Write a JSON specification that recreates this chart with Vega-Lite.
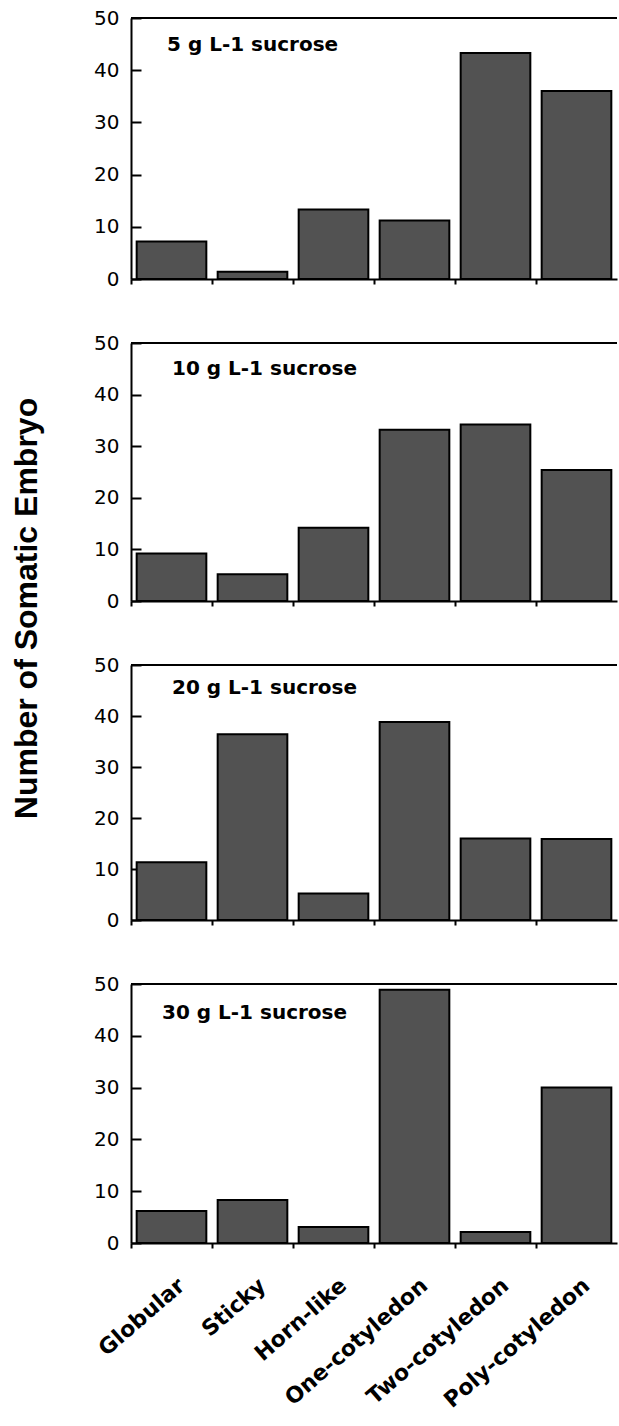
{
  "$schema": "https://vega.github.io/schema/vega-lite/v6.json",
  "background": "white",
  "padding": {"left": 10, "top": 8, "right": 2, "bottom": 5},
  "bounds": "flush",
  "spacing": 64,
  "config": {
    "view": {"stroke": null},
    "font": "Liberation Sans",
    "axis": {"domainColor": "black", "domainWidth": 2, "tickColor": "black", "tickWidth": 2, "labelColor": "black", "labelFont": "DejaVu Sans", "labelLimit": 0, "titleColor": "black", "titleFont": "Liberation Sans", "grid": false}
  },
  "data": {"values": [
    {"sucrose": "5 g L-1 sucrose", "type": "Globular", "count": 7.2},
    {"sucrose": "5 g L-1 sucrose", "type": "Sticky", "count": 1.4},
    {"sucrose": "5 g L-1 sucrose", "type": "Horn-like", "count": 13.3},
    {"sucrose": "5 g L-1 sucrose", "type": "One-cotyledon", "count": 11.2},
    {"sucrose": "5 g L-1 sucrose", "type": "Two-cotyledon", "count": 43.3},
    {"sucrose": "5 g L-1 sucrose", "type": "Poly-cotyledon", "count": 36.0},
    {"sucrose": "10 g L-1 sucrose", "type": "Globular", "count": 9.2},
    {"sucrose": "10 g L-1 sucrose", "type": "Sticky", "count": 5.2},
    {"sucrose": "10 g L-1 sucrose", "type": "Horn-like", "count": 14.2},
    {"sucrose": "10 g L-1 sucrose", "type": "One-cotyledon", "count": 33.2},
    {"sucrose": "10 g L-1 sucrose", "type": "Two-cotyledon", "count": 34.2},
    {"sucrose": "10 g L-1 sucrose", "type": "Poly-cotyledon", "count": 25.4},
    {"sucrose": "20 g L-1 sucrose", "type": "Globular", "count": 11.3},
    {"sucrose": "20 g L-1 sucrose", "type": "Sticky", "count": 36.4},
    {"sucrose": "20 g L-1 sucrose", "type": "Horn-like", "count": 5.2},
    {"sucrose": "20 g L-1 sucrose", "type": "One-cotyledon", "count": 38.8},
    {"sucrose": "20 g L-1 sucrose", "type": "Two-cotyledon", "count": 16.0},
    {"sucrose": "20 g L-1 sucrose", "type": "Poly-cotyledon", "count": 15.9},
    {"sucrose": "30 g L-1 sucrose", "type": "Globular", "count": 6.2},
    {"sucrose": "30 g L-1 sucrose", "type": "Sticky", "count": 8.3},
    {"sucrose": "30 g L-1 sucrose", "type": "Horn-like", "count": 3.1},
    {"sucrose": "30 g L-1 sucrose", "type": "One-cotyledon", "count": 48.9},
    {"sucrose": "30 g L-1 sucrose", "type": "Two-cotyledon", "count": 2.1},
    {"sucrose": "30 g L-1 sucrose", "type": "Poly-cotyledon", "count": 30.0}
  ]},
  "vconcat": [
    {
      "width": 486, "height": 261,
      "transform": [{"filter": "datum.sucrose == '5 g L-1 sucrose'"}],
      "layer": [
        {
          "mark": {"type": "bar", "fill": "#525252", "stroke": "black", "strokeWidth": 2, "width": {"band": 0.86}},
          "encoding": {
            "x": {"field": "type", "type": "nominal", "sort": ["Globular", "Sticky", "Horn-like", "One-cotyledon", "Two-cotyledon", "Poly-cotyledon"], "scale": {"paddingInner": 0, "paddingOuter": 0},
                  "axis": {"title": null, "labels": false, "bandPosition": 0, "tickSize": 5}},
            "y": {"field": "count", "type": "quantitative", "scale": {"domain": [0, 50], "nice": false},
                  "axis": {"title": null, "values": [0, 10, 20, 30, 40, 50], "tickSize": -10, "labelFontSize": 20, "labelPadding": 22}}
          }
        },
        {
          "transform": [{"aggregate": [{"op": "count", "as": "n"}], "groupby": ["sucrose"]}],
          "mark": {"type": "rule", "strokeWidth": 2, "color": "black"},
          "encoding": {"y": {"datum": 50, "type": "quantitative"}}
        },
        {
          "transform": [{"aggregate": [{"op": "count", "as": "n"}], "groupby": ["sucrose"]}],
          "mark": {"type": "text", "align": "left", "baseline": "alphabetic", "dx": -4.5, "fontSize": 20, "fontWeight": "bold", "font": "DejaVu Sans", "color": "black"},
          "encoding": {"x": {"datum": "Globular", "type": "nominal"}, "y": {"datum": 43.7, "type": "quantitative"}, "text": {"field": "sucrose"}}
        }
      ]
    },
    {
      "width": 486, "height": 258,
      "transform": [{"filter": "datum.sucrose == '10 g L-1 sucrose'"}],
      "layer": [
        {
          "mark": {"type": "bar", "fill": "#525252", "stroke": "black", "strokeWidth": 2, "width": {"band": 0.86}},
          "encoding": {
            "x": {"field": "type", "type": "nominal", "sort": ["Globular", "Sticky", "Horn-like", "One-cotyledon", "Two-cotyledon", "Poly-cotyledon"], "scale": {"paddingInner": 0, "paddingOuter": 0},
                  "axis": {"title": null, "labels": false, "bandPosition": 0, "tickSize": 5}},
            "y": {"field": "count", "type": "quantitative", "scale": {"domain": [0, 50], "nice": false},
                  "axis": {"title": "Number of Somatic Embryo", "titleFontSize": 32, "titleFontWeight": "bold", "titleY": 265, "titlePadding": 50, "values": [0, 10, 20, 30, 40, 50], "tickSize": -10, "labelFontSize": 20, "labelPadding": 22}}
          }
        },
        {
          "transform": [{"aggregate": [{"op": "count", "as": "n"}], "groupby": ["sucrose"]}],
          "mark": {"type": "rule", "strokeWidth": 2, "color": "black"},
          "encoding": {"y": {"datum": 50, "type": "quantitative"}}
        },
        {
          "transform": [{"aggregate": [{"op": "count", "as": "n"}], "groupby": ["sucrose"]}],
          "mark": {"type": "text", "align": "left", "baseline": "alphabetic", "dx": 0.5, "fontSize": 20, "fontWeight": "bold", "font": "DejaVu Sans", "color": "black"},
          "encoding": {"x": {"datum": "Globular", "type": "nominal"}, "y": {"datum": 43.8, "type": "quantitative"}, "text": {"field": "sucrose"}}
        }
      ]
    },
    {
      "width": 486, "height": 255,
      "transform": [{"filter": "datum.sucrose == '20 g L-1 sucrose'"}],
      "layer": [
        {
          "mark": {"type": "bar", "fill": "#525252", "stroke": "black", "strokeWidth": 2, "width": {"band": 0.86}},
          "encoding": {
            "x": {"field": "type", "type": "nominal", "sort": ["Globular", "Sticky", "Horn-like", "One-cotyledon", "Two-cotyledon", "Poly-cotyledon"], "scale": {"paddingInner": 0, "paddingOuter": 0},
                  "axis": {"title": null, "labels": false, "bandPosition": 0, "tickSize": 5}},
            "y": {"field": "count", "type": "quantitative", "scale": {"domain": [0, 50], "nice": false},
                  "axis": {"title": null, "values": [0, 10, 20, 30, 40, 50], "tickSize": -10, "labelFontSize": 20, "labelPadding": 22}}
          }
        },
        {
          "transform": [{"aggregate": [{"op": "count", "as": "n"}], "groupby": ["sucrose"]}],
          "mark": {"type": "rule", "strokeWidth": 2, "color": "black"},
          "encoding": {"y": {"datum": 50, "type": "quantitative"}}
        },
        {
          "transform": [{"aggregate": [{"op": "count", "as": "n"}], "groupby": ["sucrose"]}],
          "mark": {"type": "text", "align": "left", "baseline": "alphabetic", "dx": 0.5, "fontSize": 20, "fontWeight": "bold", "font": "DejaVu Sans", "color": "black"},
          "encoding": {"x": {"datum": "Globular", "type": "nominal"}, "y": {"datum": 44.3, "type": "quantitative"}, "text": {"field": "sucrose"}}
        }
      ]
    },
    {
      "width": 486, "height": 259,
      "transform": [{"filter": "datum.sucrose == '30 g L-1 sucrose'"}],
      "layer": [
        {
          "mark": {"type": "bar", "fill": "#525252", "stroke": "black", "strokeWidth": 2, "width": {"band": 0.86}},
          "encoding": {
            "x": {"field": "type", "type": "nominal", "sort": ["Globular", "Sticky", "Horn-like", "One-cotyledon", "Two-cotyledon", "Poly-cotyledon"], "scale": {"paddingInner": 0, "paddingOuter": 0},
                  "axis": {"title": null, "bandPosition": 0, "tickSize": 5, "labelOffset": 10, "labelAngle": -41, "labelAlign": "right", "labelBaseline": "middle", "labelFontSize": 22, "labelFontWeight": "bold", "labelPadding": 34, "labelLimit": 0}},
            "y": {"field": "count", "type": "quantitative", "scale": {"domain": [0, 50], "nice": false},
                  "axis": {"title": null, "values": [0, 10, 20, 30, 40, 50], "tickSize": -10, "labelFontSize": 20, "labelPadding": 22}}
          }
        },
        {
          "transform": [{"aggregate": [{"op": "count", "as": "n"}], "groupby": ["sucrose"]}],
          "mark": {"type": "rule", "strokeWidth": 2, "color": "black"},
          "encoding": {"y": {"datum": 50, "type": "quantitative"}}
        },
        {
          "transform": [{"aggregate": [{"op": "count", "as": "n"}], "groupby": ["sucrose"]}],
          "mark": {"type": "text", "align": "left", "baseline": "alphabetic", "dx": -9.5, "fontSize": 20, "fontWeight": "bold", "font": "DejaVu Sans", "color": "black"},
          "encoding": {"x": {"datum": "Globular", "type": "nominal"}, "y": {"datum": 43.2, "type": "quantitative"}, "text": {"field": "sucrose"}}
        }
      ]
    }
  ]
}
